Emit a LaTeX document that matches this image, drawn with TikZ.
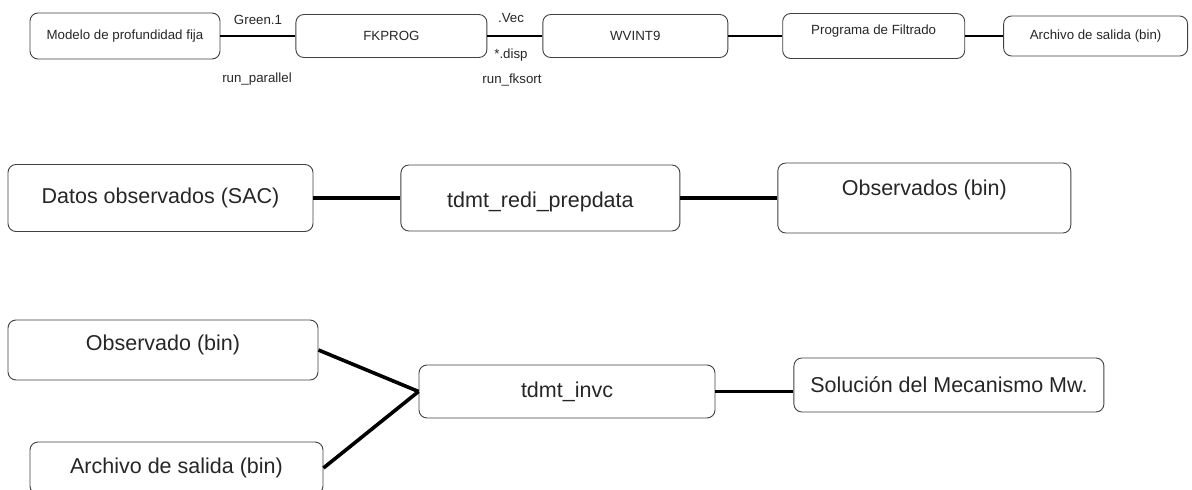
\documentclass[tikz,border=0pt]{standalone}
\usepackage{fontspec}
\setmainfont{Liberation Sans}
\usetikzlibrary{positioning}

\tikzset{
  box/.style={draw=black!75, line width=0.9pt, rounded corners=8pt, inner sep=0pt,
    text=black!85},
  small/.style={font=\fontsize{13.3}{15}\selectfont},
  big/.style={font=\fontsize{21.5}{24}\selectfont},
  tag/.style={small, text=black!85, inner sep=0pt},
  link/.style={line width=2.8pt},
  biglink/.style={line width=3.6pt}
}

\begin{document}
\begin{tikzpicture}[x=1pt, y=-1pt]
  \clip (0,0) rectangle (1192,490);

  % fila 1: modelo sintetico
  \node[box, small, minimum width=190pt, minimum height=46pt] (modelo) at (125,36) {Modelo de profundidad fija};
  \node[box, small, minimum width=191pt, minimum height=43pt] (fkprog) [right=75pt of modelo] {FKPROG};
  \node[box, small, minimum width=185pt, minimum height=43pt] (wvint) [right=55pt of fkprog] {WVINT9};
  \node[box, small, minimum width=182pt, minimum height=45pt] (filtro) [right=54pt of wvint] {\raisebox{5pt}[\height][\depth]{Programa de Filtrado}};
  \node[box, small, minimum width=184pt, minimum height=40pt] (salida) [right=38pt of filtro] {Archivo de salida (bin)};

  \node[tag] (green) at (258,20) {Green.1};
  \node[tag] (runpar) at (257,79) {run\_parallel};
  \node[tag] (vec) at (511,18) {.Vec};
  \node[tag] (disp) at (511,55) {*.disp};
  \node[tag] (runfk) at (512,80) {run\_fksort};

  \path[link]
  (modelo) edge (fkprog)
  (fkprog) edge (wvint)
  (wvint) edge (filtro)
  (filtro) edge (salida);

  % fila 2: datos observados
  \node[box, big, minimum width=305pt, minimum height=67pt] (datos) at (160.5,198) {Datos observados (SAC)};
  \node[box, big, minimum width=279pt, minimum height=66pt] (prep) [right=87pt of datos] {\raisebox{-4pt}[\height][\depth]{tdmt\_redi\_prepdata}};
  \node[box, big, minimum width=293pt, minimum height=70pt] (obsbin) [right=97pt of prep] {\raisebox{8pt}[\height][\depth]{Observados (bin)}};

  \path[biglink]
  (datos) edge (prep)
  (prep) edge (obsbin);

  % fila 3: inversion
  \node[box, big, minimum width=310pt, minimum height=60pt] (obs) at (163,350) {\raisebox{5pt}[\height][\depth]{Observado (bin)}};
  \node[box, big, minimum width=293pt, minimum height=52pt] (arch) at (176.5,468) {Archivo de salida (bin)};
  \node[box, big, minimum width=296pt, minimum height=53pt] (invc) at (567,391.5) {tdmt\_invc};
  \node[box, big, minimum width=310pt, minimum height=54pt] (mw) [right=78pt of invc, yshift=6.5pt] {Soluci\'on del Mecanismo Mw.};

  \draw[biglink] (obs.east) -- (invc.west);
  \draw[biglink] (arch.east) -- (invc.west);
  \draw[biglink] (invc.east) -- (invc.east -| mw.west);
\end{tikzpicture}
\end{document}
